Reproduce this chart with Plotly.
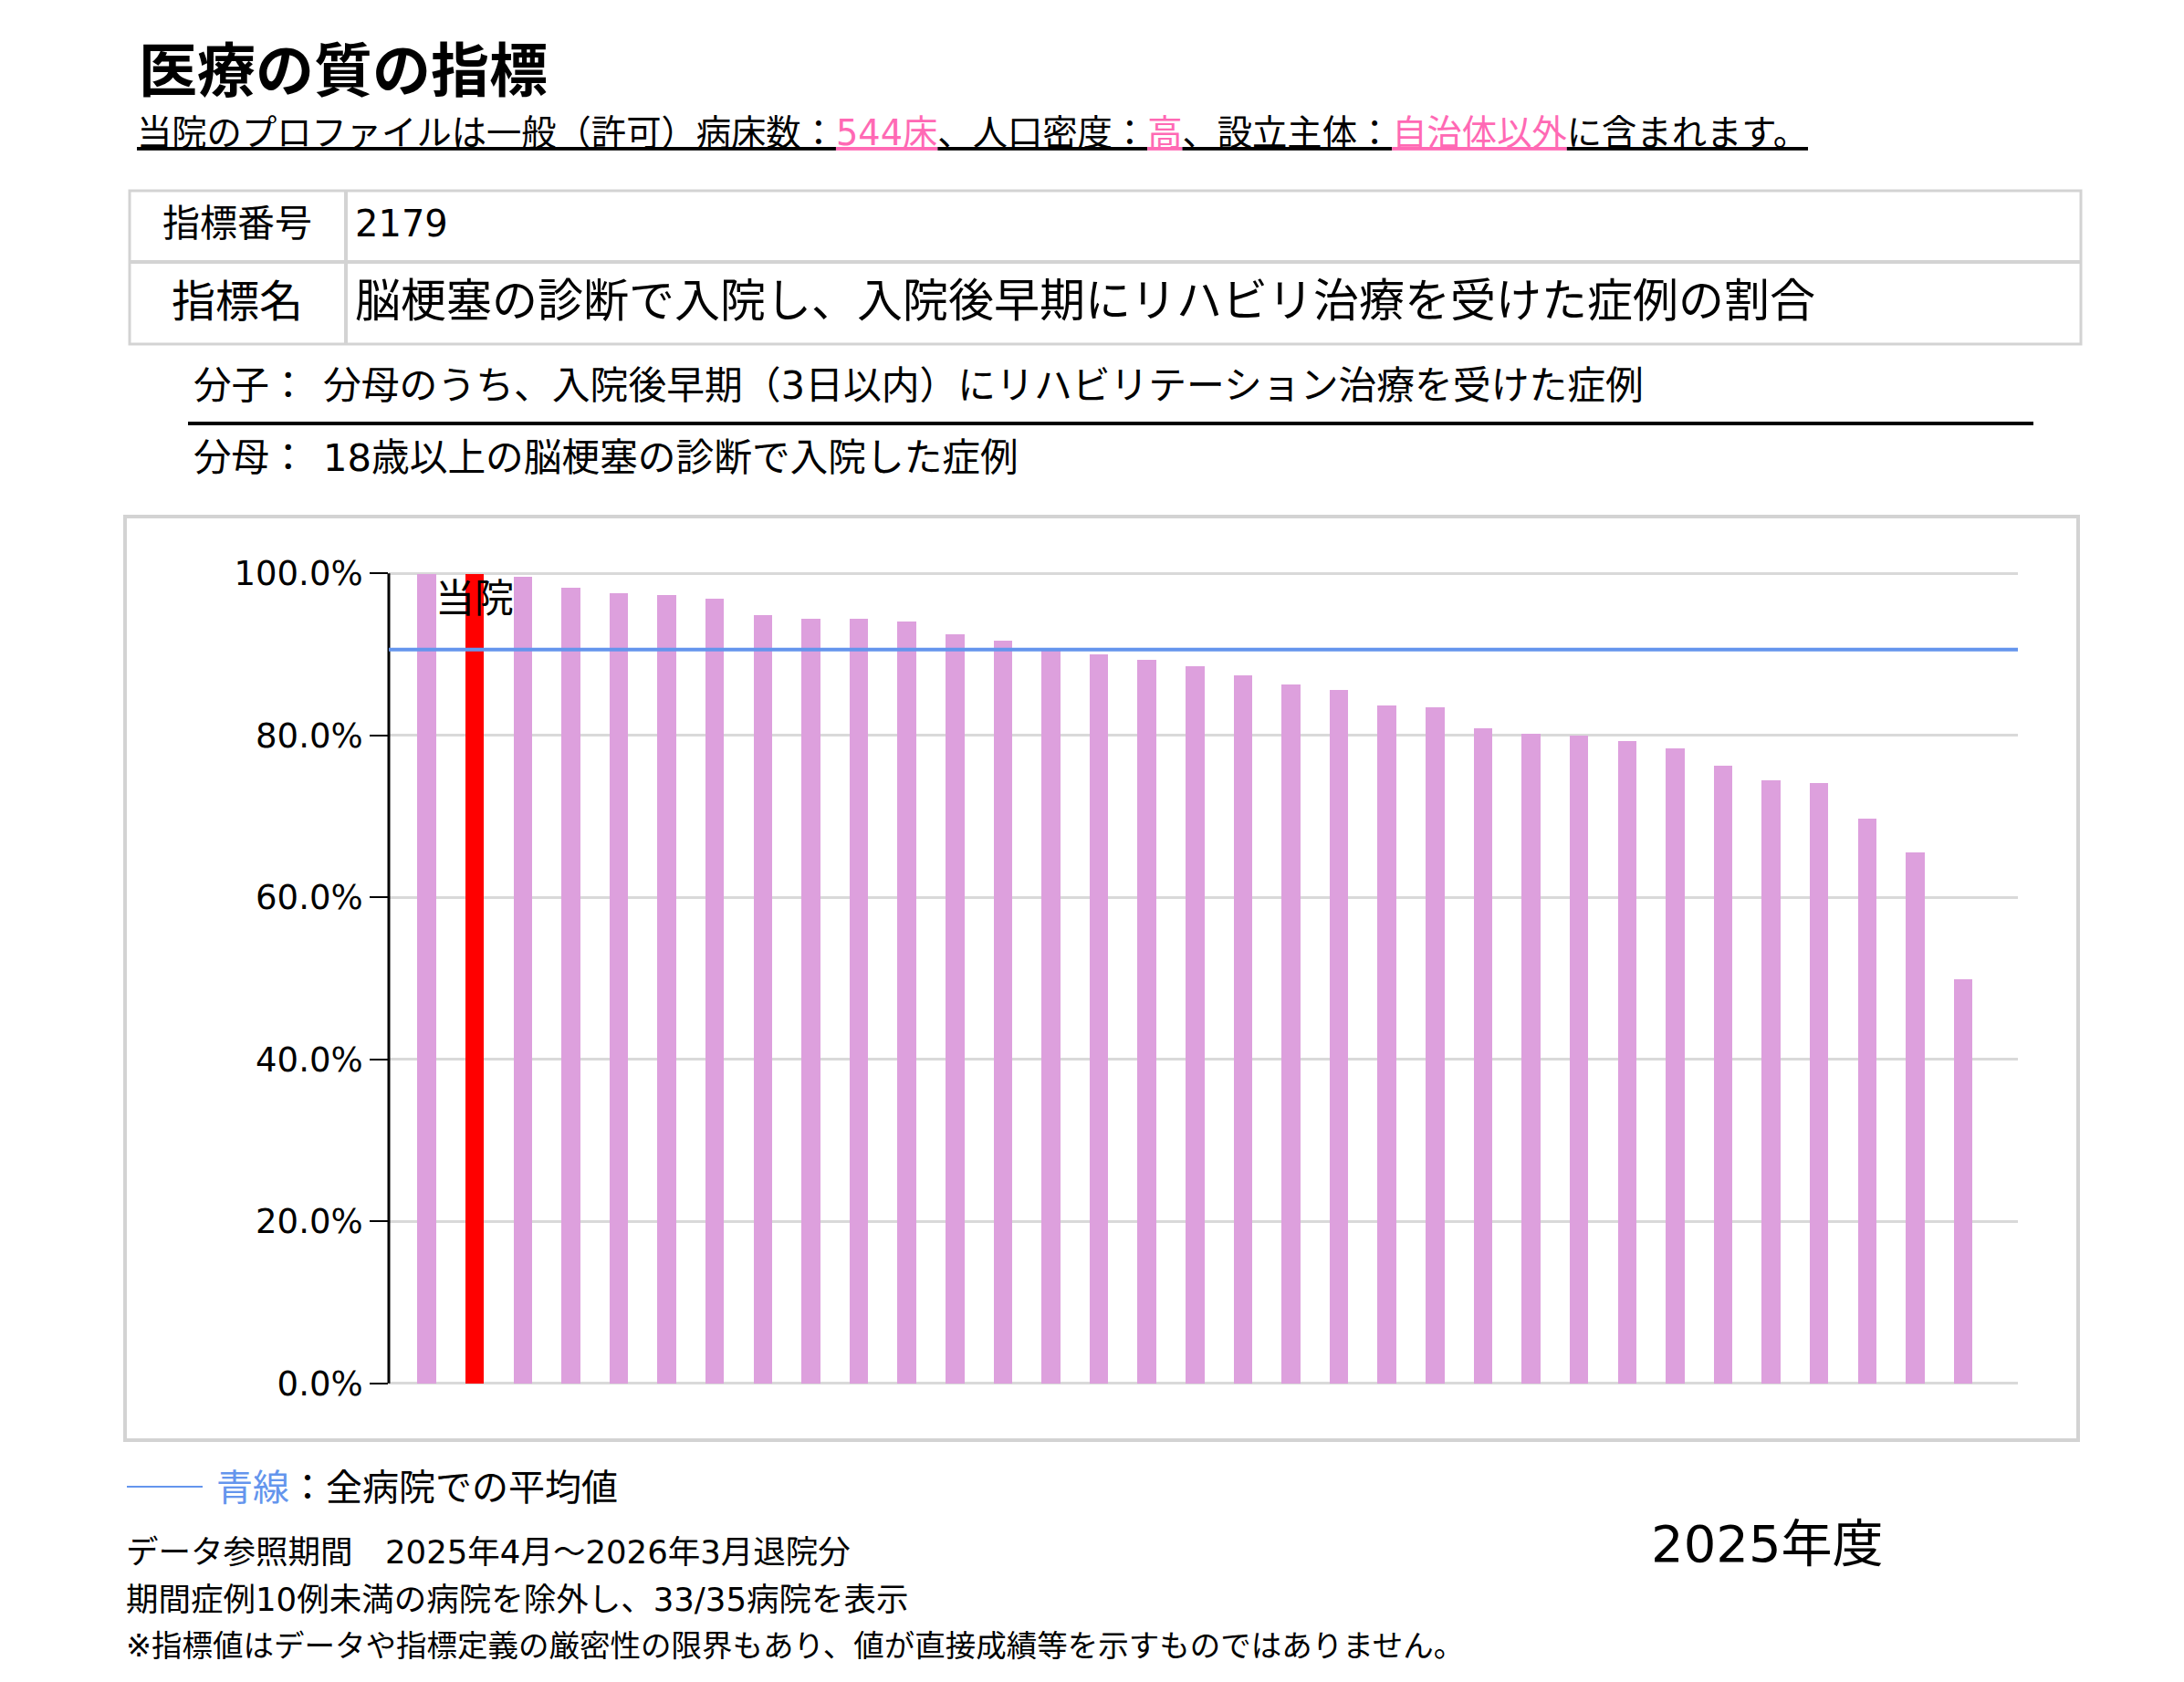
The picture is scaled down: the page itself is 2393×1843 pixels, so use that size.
import plotly.graph_objects as go

# ---------------- data ----------------
hospital_values = [100.0, 100.0, 99.6, 98.3, 97.6, 97.4, 96.9, 94.9, 94.5, 94.5, 94.1,
                   92.5, 91.7, 90.8, 90.1, 89.4, 88.6, 87.5, 86.3, 85.7, 83.8, 83.5,
                   80.9, 80.2, 80.0, 79.3, 78.4, 76.3, 74.5, 74.2, 69.8, 65.6, 50.0]
own_index = 1
own_label = "当院"
average_value = 90.6
y_tick_values = [0, 20, 40, 60, 80, 100]

title_text = "医療の質の指標"
profile_parts = [("当院のプロファイルは一般（許可）病床数：", False), ("544床", True),
                 ("、人口密度：", False), ("高", True), ("、設立主体：", False),
                 ("自治体以外", True), ("に含まれます。", False)]
indicator_no_label = "指標番号"
indicator_no = "2179"
indicator_name_label = "指標名"
indicator_name = "脳梗塞の診断で入院し、入院後早期にリハビリ治療を受けた症例の割合"
numerator_label = "分子："
numerator_text = "分母のうち、入院後早期（3日以内）にリハビリテーション治療を受けた症例"
denominator_label = "分母："
denominator_text = "18歳以上の脳梗塞の診断で入院した症例"
legend_blue = "青線"
legend_rest = "：全病院での平均値"
footer_lines = ["データ参照期間　2025年4月～2026年3月退院分",
                "期間症例10例未満の病院を除外し、33/35病院を表示",
                "※指標値はデータや指標定義の厳密性の限界もあり、値が直接成績等を示すものではありません。"]
fiscal_year = "2025年度"

# ---------------- style ----------------
W, H = 2393, 1843
FONT = "DejaVu Sans, Noto Sans CJK JP"
CJK = "Noto Sans CJK JP"
BAR = "#DDA0DD"
OWN = "#FF0000"
AVG = "#6495ED"
PINK = "#FF69B4"
GRAY = "#D3D3D3"


def px(x):
    return x / W


def py(y):
    return 1 - y / H


# plot area geometry (pixels)
X_LEFT, X_RIGHT = 426, 2211
Y_ZERO, Y_HUNDRED = 1515.8, 628.3
unit = Y_ZERO - Y_HUNDRED
y_lo, y_hi = -0.004, 1.02
dom_bottom = py(Y_ZERO - y_lo * unit)
dom_top = py(Y_ZERO - y_hi * unit)
x_range = [-0.79, 33.14]

xs = list(range(len(hospital_values)))
colors = [OWN if i == own_index else BAR for i in xs]

fig = go.Figure()
fig.add_trace(go.Bar(x=xs, y=[v / 100 for v in hospital_values], width=0.39,
                     marker=dict(color=colors, line=dict(width=0)),
                     hoverinfo="skip", showlegend=False))

annotations = []


def ann(text, x, y, size, xanchor="left", color="black", family=FONT, xref="paper", yref="paper"):
    annotations.append(dict(text=text, x=x, y=y, xref=xref, yref=yref, xanchor=xanchor,
                            yanchor="middle", showarrow=False,
                            font=dict(family=family, size=size, color=color)))


# title
ann("<b>" + title_text + "</b>", px(150), py(72), 64, family=CJK)
# subtitle with underline
sub = ""
for txt, hl in profile_parts:
    if hl:
        sub += '<span style="color:%s;text-decoration:underline">%s</span>' % (PINK, txt)
    else:
        sub += '<span style="text-decoration:underline">%s</span>' % txt
ann(sub, px(148), py(145), 38.3)

# table
ann(indicator_no_label, px(260), py(245), 41, xanchor="center")
ann(indicator_no, px(387), py(245), 40)
ann(indicator_name_label, px(260), py(330), 48, xanchor="center")
ann(indicator_name, px(387), py(330), 50)

# numerator / denominator
ann(numerator_label, px(210), py(422), 41.5)
ann(numerator_text, px(352), py(422), 41.8)
ann(denominator_label, px(210), py(501), 41.5)
ann(denominator_text, px(352), py(501), 41.7)

# own hospital label
ann(own_label, own_index, 0.969, 43, xanchor="center", xref="x", yref="y")

# legend
ann('<span style="color:%s">%s</span>%s' % (AVG, legend_blue, legend_rest), px(235), py(1630), 40)

# footer
footer_sizes = [35.5, 35.5, 33.5]
for i, line in enumerate(footer_lines):
    ann(line, px(136), py([1700, 1752, 1803][i]), footer_sizes[i])
ann(fiscal_year, px(1937), py(1691), 56, xanchor="center")

shapes = []
# table borders
shapes.append(dict(type="rect", xref="paper", yref="paper", x0=px(142), x1=px(2280), y0=py(209), y1=py(377),
                   line=dict(color=GRAY, width=3)))
shapes.append(dict(type="line", xref="paper", yref="paper", x0=px(142), x1=px(2280), y0=py(287), y1=py(287),
                   line=dict(color=GRAY, width=4)))
shapes.append(dict(type="line", xref="paper", yref="paper", x0=px(379), x1=px(379), y0=py(209), y1=py(377),
                   line=dict(color=GRAY, width=4)))
# fraction line
shapes.append(dict(type="line", xref="paper", yref="paper", x0=px(206), x1=px(2228), y0=py(464), y1=py(464),
                   line=dict(color="black", width=4)))
# chart frame
shapes.append(dict(type="rect", xref="paper", yref="paper", x0=px(137), x1=px(2277), y0=py(566), y1=py(1578),
                   line=dict(color=GRAY, width=4), layer="below"))
# y axis line
shapes.append(dict(type="line", xref="paper", yref="y", x0=px(X_LEFT), x1=px(X_LEFT), y0=0, y1=1,
                   line=dict(color="black", width=3)))
# average line
shapes.append(dict(type="line", xref="paper", yref="y", x0=px(X_LEFT), x1=px(X_RIGHT),
                   y0=average_value / 100, y1=average_value / 100, line=dict(color=AVG, width=4)))
# legend line
shapes.append(dict(type="line", xref="paper", yref="paper", x0=px(139), x1=px(222), y0=py(1629), y1=py(1629),
                   line=dict(color=AVG, width=2)))

fig.update_layout(
    width=W, height=H, margin=dict(l=0, r=0, t=0, b=0, autoexpand=False),
    paper_bgcolor="white", plot_bgcolor="white",
    bargap=0, showlegend=False,
    xaxis=dict(domain=[px(X_LEFT), px(X_RIGHT)], range=x_range, showticklabels=False,
               showgrid=False, zeroline=False, showline=False, ticks="", fixedrange=True,
               automargin=False),
    yaxis=dict(domain=[dom_bottom, dom_top], range=[y_lo, y_hi],
               tickvals=[v / 100 for v in y_tick_values], tickformat=".1%",
               ticks="outside", ticklen=20, tickwidth=2, tickcolor="black",
               showgrid=True, gridcolor="#D9D9D9", gridwidth=3, zeroline=False, showline=False,
               tickfont=dict(family=FONT, size=37, color="black"), fixedrange=True,
               automargin=False),
    annotations=annotations, shapes=shapes,
)

fig.write_html("out.html")
